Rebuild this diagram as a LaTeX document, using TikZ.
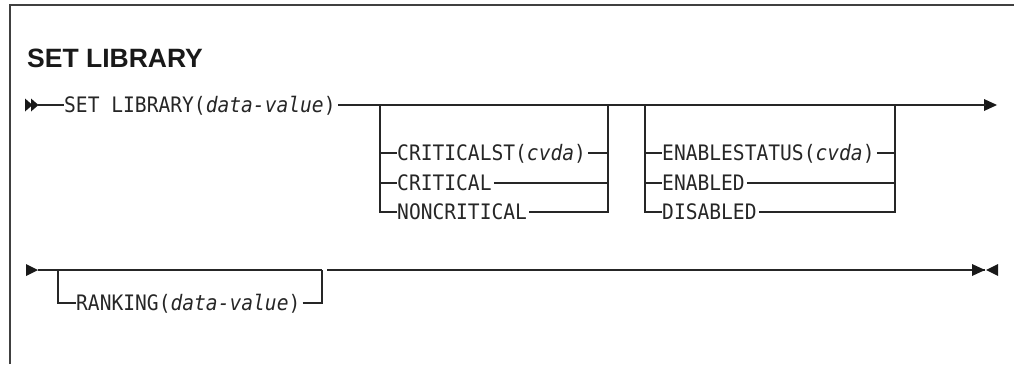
\documentclass[tikz,border=0pt]{standalone}
\usepackage{fontspec}
\usepackage{graphicx}
\newfontfamily\synmono{DejaVu Sans Mono}
\newfontfamily\syntitle{Liberation Sans}
\newcommand{\synbox}[1]{\scalebox{0.92}[1]{#1}}
\begin{document}
\begin{tikzpicture}[x=1pt,y=-1pt,
  rail/.style={line width=1.3pt, draw=black!85},
  kw/.style={anchor=base west, inner sep=0pt, font=\synmono\fontsize{21.3}{24}\selectfont, text=black!85},
  tipfill/.style={fill=black!90}]
\useasboundingbox (0,0) rectangle (1014,364);
% frame
\draw[line width=2pt, draw=black!75] (10,364) -- (10,5) -- (1014,5);
% title
\node[anchor=base west, inner sep=0pt, font=\syntitle\bfseries\fontsize{26.5}{30}\selectfont, text=black!90] (title) at (27,67.5) {SET LIBRARY};

% ---------- line 1 (y = 105) ----------
\coordinate (s1) at (38,105);
\fill[tipfill] (25,98.5) -- (32.5,105) -- (25,111.5) -- cycle;
\fill[tipfill] (31,98.5) -- (38.5,105) -- (31,111.5) -- cycle;
\node[kw] (set) at (64,112.7) {\synbox{SET LIBRARY(\textit{data-value})}};
\coordinate (e1) at (986,105);
\fill[tipfill] (984,99) -- (997,105) -- (984,111) -- cycle;
\draw[rail] (s1) -- (set.west |- s1);
\draw[rail] ([xshift=2pt]set.east |- s1) -- (e1);

% branch 1
\coordinate (b1l) at (380,105);
\coordinate (b1r) at (608,105);
\coordinate (c1a) at (380,153);
\coordinate (c1b) at (380,183);
\coordinate (c1c) at (380,212);
\coordinate (d1a) at (608,153);
\coordinate (d1b) at (608,183);
\coordinate (d1c) at (608,212);
\node[kw] (crst) at (397,160.7) {\synbox{CRITICALST(\textit{cvda})}};
\node[kw] (crit) at (397,190.7) {\synbox{CRITICAL}};
\node[kw] (ncrit) at (397,219.7) {\synbox{NONCRITICAL}};
\draw[rail] (b1l) -- (c1c) -- (ncrit.west |- c1c);
\draw[rail] (c1a) -- (crst.west |- c1a);
\draw[rail] (c1b) -- (crit.west |- c1b);
\draw[rail] (b1r) -- (d1c) -- ([xshift=2pt]ncrit.east |- d1c);
\draw[rail] ([xshift=2pt]crst.east |- d1a) -- (d1a);
\draw[rail] ([xshift=2pt]crit.east |- d1b) -- (d1b);

% branch 2
\coordinate (b2l) at (645,105);
\coordinate (b2r) at (895,105);
\coordinate (c2a) at (645,153);
\coordinate (c2b) at (645,183);
\coordinate (c2c) at (645,212);
\coordinate (d2a) at (895,153);
\coordinate (d2b) at (895,183);
\coordinate (d2c) at (895,212);
\node[kw] (enst) at (662,160.7) {\synbox{ENABLESTATUS(\textit{cvda})}};
\node[kw] (enab) at (662,190.7) {\synbox{ENABLED}};
\node[kw] (disab) at (662,219.7) {\synbox{DISABLED}};
\draw[rail] (b2l) -- (c2c) -- (disab.west |- c2c);
\draw[rail] (c2a) -- (enst.west |- c2a);
\draw[rail] (c2b) -- (enab.west |- c2b);
\draw[rail] (b2r) -- (d2c) -- ([xshift=2pt]disab.east |- d2c);
\draw[rail] ([xshift=2pt]enst.east |- d2a) -- (d2a);
\draw[rail] ([xshift=2pt]enab.east |- d2b) -- (d2b);

% ---------- line 2 (y = 270) ----------
\coordinate (s2) at (38,270);
\fill[tipfill] (26,264) -- (38,270) -- (26,276) -- cycle;
\coordinate (b3l) at (58,270);
\coordinate (b3r) at (322,270);
\coordinate (c3) at (58,303);
\coordinate (d3) at (322,303);
\node[kw] (rank) at (76,310.7) {\synbox{RANKING(\textit{data-value})}};
\draw[rail] (s2) -- (b3r);
\draw[rail] (b3l) -- (c3) -- (rank.west |- c3);
\draw[rail] ([xshift=2pt]rank.east |- d3) -- (d3) -- (b3r);
\coordinate (g2) at (327,270);
\coordinate (e2) at (985,270);
\draw[line width=2pt, draw=black!85] (327,270.4) -- (350,270.4);
\draw[rail] (g2) -- (e2);
\fill[tipfill] (972,264) -- (985,270) -- (972,276) -- cycle;
\fill[tipfill] (998,264) -- (986,270) -- (998,276) -- cycle;
\end{tikzpicture}
\end{document}
